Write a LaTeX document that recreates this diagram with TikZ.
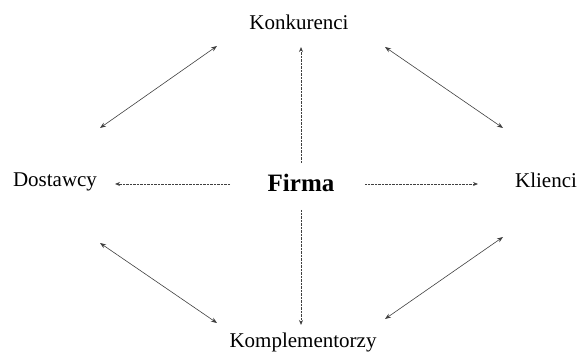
\documentclass[tikz,border=0pt]{standalone}
\usepackage{fontspec}
\setmainfont{Liberation Serif}
\usetikzlibrary{arrows.meta,calc}
\begin{document}
\begin{tikzpicture}[x=1pt,y=-1pt,
  lbl/.style={inner sep=0pt,text depth=0pt,font=\fontsize{21}{25}\selectfont},
  firmastyle/.style={inner sep=0pt,text depth=0pt,font=\fontsize{25}{30}\selectfont\bfseries},
  diag/.style={draw=black!75,line width=0.6pt,{Stealth[length=6pt,width=4.5pt]}-{Stealth[length=6pt,width=4.5pt]}},
  straight/.style={draw=black!75,line width=0.9pt,dash pattern=on 0.8pt off 0.6pt,-{Stealth[length=5pt,width=4pt]}}]
\useasboundingbox (0,0) rectangle (581,352);
\node[lbl] (konk) at (299,22) {Konkurenci};
\node[lbl] (dost) at (55,180) {Dostawcy};
\node[firmastyle] (firma) at (301,182.5) {Firma};
\node[lbl] (klienci) at (546,180) {Klienci};
\node[lbl] (komp) at (303,340) {Komplementorzy};
% straight arrows from Firma
\draw[straight] ($(firma)+(-71,1.5)$) -- ($(dost)+(60,4)$);
\draw[straight] ($(firma)+(64,1.5)$) -- ($(klienci)+(-68,4)$);
\draw[straight] ($(firma)+(0,-19.5)$) -- ($(konk)+(2,25)$);
\draw[straight] ($(firma)+(0,27.5)$) -- ($(komp)+(-2,-15)$);
% diagonals
\draw[diag] ($(dost)+(45,-52)$) -- ($(konk)+(-82,24)$);
\draw[diag] ($(konk)+(86,25)$) -- ($(klienci)+(-43,-52)$);
\draw[diag] ($(dost)+(45,63)$) -- ($(komp)+(-86,-17)$);
\draw[diag] ($(klienci)+(-43,57)$) -- ($(komp)+(82,-21)$);
\end{tikzpicture}
\end{document}
